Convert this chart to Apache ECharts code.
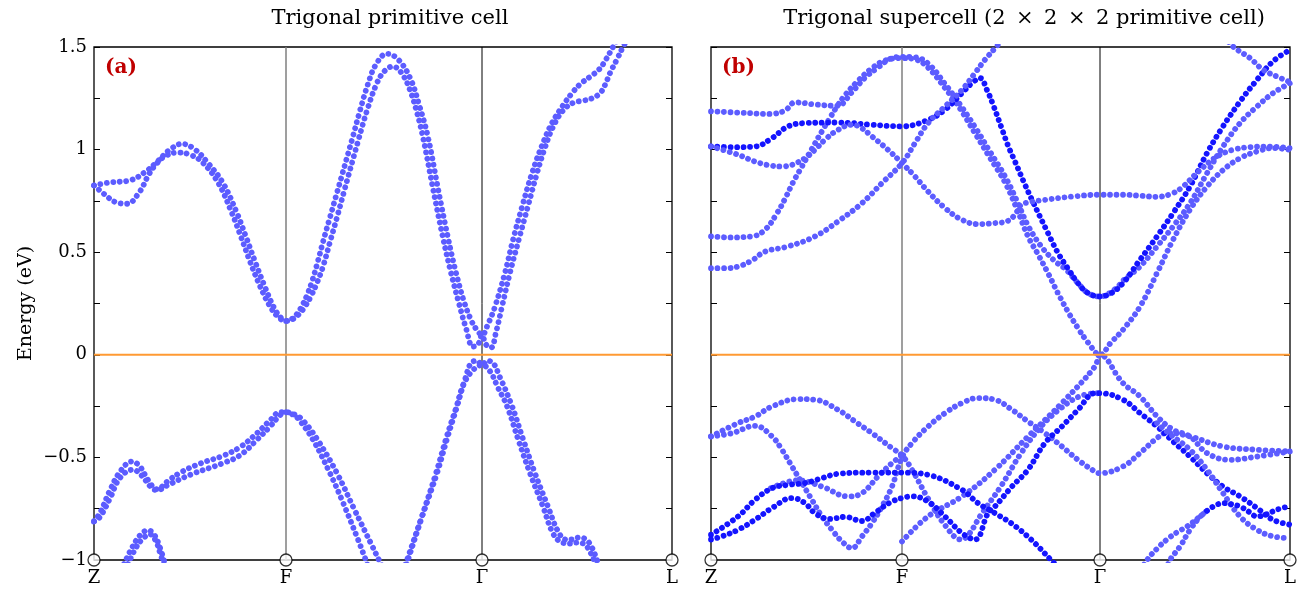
<!DOCTYPE html>
<html><head><meta charset="utf-8">
<script src="https://cdn.jsdelivr.net/npm/echarts@6/dist/echarts.min.js"></script>
<style>html,body{margin:0;padding:0;background:#fff}#c{width:1299px;height:590px}</style>
</head><body><div id="c"></div>
<script>
// ---------- tick data ----------
const kTicksA = [0, 1.92, 3.88, 5.78];
const kTicksB = [0, 1.91, 3.89, 5.79];
const kLabels = ['Z', 'F', 'Γ', 'L'];
const titleA = 'Trigonal primitive cell';
const titleB = 'Trigonal supercell (2\u2002×\u20022\u2002×\u20022 primitive cell)';

// ---------- panel (a): bands [k, E(eV)] ----------
const aCondHi = [[0,0.825],[0.16,0.84],[0.36,0.85],[0.51,0.89],[0.63,0.94],[0.76,1.0],[0.88,1.028],[1.01,1.0],[1.13,0.94],[1.29,0.837],[1.43,0.69],[1.52,0.575],[1.61,0.455],[1.71,0.33],[1.80,0.23],[1.87,0.18],[1.92,0.165],
 [1.96,0.17],[2.0,0.183],[2.04,0.206],[2.08,0.238],[2.13,0.29],[2.18,0.357],[2.23,0.44],[2.29,0.55],[2.36,0.67],[2.43,0.79],[2.58,1.048],[2.66,1.19],[2.74,1.32],[2.82,1.415],[2.93,1.467],[3.04,1.44],[3.16,1.35],[3.25,1.22],[3.34,1.06],[3.44,0.81],[3.54,0.57],[3.62,0.4],[3.70,0.26],[3.77,0.17],[3.83,0.12],[3.88,0.097],
 [3.94,0.15],[4.01,0.235],[4.11,0.4],[4.19,0.56],[4.28,0.72],[4.38,0.885],[4.48,1.02],[4.58,1.13],[4.69,1.215],[4.78,1.275],[4.86,1.318],[4.96,1.355],[5.05,1.39],[5.12,1.44],[5.19,1.5],[5.26,1.56]];
const aCondLo = [[0,0.825],[0.11,0.78],[0.21,0.745],[0.33,0.736],[0.45,0.79],[0.55,0.88],[0.63,0.934],[0.72,0.97],[0.84,0.986],[0.96,0.975],[1.08,0.94],[1.24,0.84],[1.38,0.69],[1.47,0.575],[1.56,0.455],[1.66,0.335],[1.75,0.245],[1.84,0.185],[1.92,0.165],
 [2.0,0.177],[2.05,0.198],[2.11,0.235],[2.17,0.286],[2.23,0.351],[2.29,0.43],[2.36,0.55],[2.43,0.67],[2.50,0.795],[2.64,1.04],[2.73,1.19],[2.83,1.325],[2.91,1.385],[2.99,1.405],[3.08,1.37],[3.16,1.29],[3.23,1.18],[3.29,1.06],[3.39,0.81],[3.49,0.57],[3.57,0.4],[3.65,0.25],[3.72,0.13],[3.79,0.04],[3.84,0.05],[3.88,0.097],
 [3.92,0.05],[3.97,0.035],[4.02,0.11],[4.08,0.235],[4.16,0.4],[4.25,0.565],[4.34,0.725],[4.43,0.885],[4.51,1.01],[4.59,1.11],[4.69,1.19],[4.80,1.23],[4.89,1.238],[4.98,1.25],[5.06,1.275],[5.11,1.315],[5.16,1.373],[5.23,1.44],[5.29,1.5],[5.36,1.56]];
const aValHi = [[0,-0.812],[0.06,-0.77],[0.16,-0.66],[0.26,-0.57],[0.38,-0.52],[0.46,-0.545],[0.54,-0.61],[0.63,-0.655],[0.74,-0.615],[0.86,-0.575],[1.06,-0.53],[1.29,-0.492],[1.46,-0.45],[1.63,-0.382],[1.76,-0.32],[1.86,-0.28],[1.92,-0.28],
 [2.0,-0.29],[2.08,-0.315],[2.23,-0.41],[2.43,-0.577],[2.6,-0.75],[2.78,-0.93],[2.86,-1.01],[2.96,-1.1],[3.02,-1.13],[3.08,-1.1],[3.14,-1.0],[3.28,-0.79],[3.43,-0.577],[3.53,-0.41],[3.63,-0.252],[3.71,-0.12],[3.78,-0.035],[3.83,-0.03],[3.88,-0.05],
 [3.93,-0.03],[3.98,-0.035],[4.06,-0.11],[4.18,-0.25],[4.29,-0.41],[4.41,-0.577],[4.54,-0.74],[4.64,-0.86],[4.72,-0.9],[4.78,-0.9],[4.85,-0.89],[4.92,-0.9],[4.98,-0.94],[5.03,-1.0],[5.09,-1.08]];
const aValLo = [[0,-0.812],[0.06,-0.79],[0.16,-0.7],[0.26,-0.6],[0.39,-0.56],[0.48,-0.59],[0.56,-0.64],[0.63,-0.66],[0.74,-0.635],[0.96,-0.585],[1.29,-0.528],[1.46,-0.49],[1.63,-0.414],[1.76,-0.35],[1.86,-0.295],[1.92,-0.28],
 [2.0,-0.295],[2.06,-0.322],[2.19,-0.414],[2.36,-0.577],[2.49,-0.72],[2.64,-0.9],[2.71,-0.99],[2.78,-1.08],[2.9,-1.18],[3.0,-1.15],[3.07,-1.08],[3.13,-1.0],[3.27,-0.8],[3.42,-0.577],[3.52,-0.41],[3.62,-0.26],[3.70,-0.14],[3.80,-0.07],[3.88,-0.05],
 [3.96,-0.08],[4.04,-0.16],[4.13,-0.25],[4.24,-0.41],[4.36,-0.577],[4.49,-0.74],[4.59,-0.87],[4.68,-0.915],[4.76,-0.92],[4.84,-0.915],[4.91,-0.925],[4.96,-0.96],[5.00,-1.0],[5.06,-1.08]];
const aDeepOut = [[0.30,-1.02],[0.38,-0.94],[0.46,-0.88],[0.54,-0.855],[0.60,-0.875],[0.66,-0.94],[0.71,-1.02]];
const aDeepIn = [[0.34,-1.02],[0.42,-0.94],[0.49,-0.895],[0.56,-0.875],[0.62,-0.91],[0.67,-0.98],[0.70,-1.02]];

// ---------- panel (b): bands [k, E(eV)] ----------
const bC1 = [[0,1.186],[0.29,1.18],[0.59,1.174],[0.74,1.19],[0.84,1.23],[1.04,1.22],[1.26,1.213],[1.41,1.28],[1.54,1.35],[1.67,1.4],[1.81,1.446],[1.91,1.452],
 [2.04,1.45],[2.17,1.42],[2.34,1.32],[2.49,1.22],[2.64,1.11],[2.79,0.99],[2.94,0.87],[3.06,0.75],[3.17,0.63],[3.30,0.53],[3.43,0.46],[3.55,0.415],[3.67,0.349],[3.77,0.301],[3.89,0.284],
 [4.04,0.32],[4.14,0.37],[4.29,0.43],[4.46,0.528],[4.62,0.625],[4.79,0.739],[4.96,0.885],[5.12,1.015],[5.29,1.129],[5.46,1.21],[5.62,1.275],[5.79,1.324]];
const bC2 = [[0,0.577],[0.19,0.572],[0.41,0.577],[0.54,0.609],[0.66,0.69],[0.74,0.76],[0.82,0.84],[0.91,0.918],[1.01,1.005],[1.11,1.09],[1.19,1.155],[1.26,1.21],[1.34,1.265],[1.47,1.335],[1.61,1.397],[1.74,1.434],[1.91,1.446],
 [2.04,1.44],[2.17,1.40],[2.34,1.30],[2.49,1.2],[2.64,1.08],[2.79,0.96],[2.94,0.84],[3.06,0.71],[3.17,0.577],[3.27,0.49],[3.37,0.398],[3.47,0.3],[3.57,0.21],[3.67,0.13],[3.77,0.06],[3.89,0],
 [4.00,0.06],[4.12,0.122],[4.29,0.235],[4.46,0.398],[4.62,0.56],[4.79,0.707],[4.96,0.82],[5.12,0.9],[5.29,0.958],[5.46,0.991],[5.62,1.007],[5.79,0.999]];
const bC3 = [[0,1.015],[0.24,1.012],[0.44,1.015],[0.61,1.056],[0.77,1.113],[0.94,1.129],[1.27,1.132],[1.61,1.121],[1.91,1.113],[2.17,1.145],[2.34,1.194],[2.51,1.275],[2.61,1.324],[2.69,1.348],
 [2.76,1.29],[2.82,1.22],[2.91,1.10],[2.97,1.02],[3.04,0.942],[3.13,0.84],[3.21,0.755],[3.37,0.593],[3.47,0.496],[3.57,0.42],[3.67,0.349],[3.77,0.301],[3.89,0.284],
 [4.00,0.3],[4.12,0.349],[4.29,0.463],[4.46,0.577],[4.62,0.69],[4.79,0.82],[4.96,0.983],[5.12,1.113],[5.29,1.234],[5.46,1.34],[5.62,1.43],[5.79,1.486]];
const bC4 = [[0,1.015],[0.27,0.975],[0.44,0.942],[0.61,0.921],[0.71,0.918],[0.81,0.926],[0.94,0.958],[1.04,0.999],[1.14,1.048],[1.27,1.096],[1.41,1.121],[1.49,1.11],[1.61,1.064],[1.77,0.999],[1.91,0.934],
 [2.04,0.869],[2.17,0.796],[2.34,0.715],[2.51,0.658],[2.67,0.637],[2.84,0.642],[2.97,0.653],[3.05,0.69],[3.10,0.73],[3.20,0.745],[3.34,0.755],[3.61,0.771],[3.89,0.78],
 [4.12,0.78],[4.29,0.775],[4.46,0.77],[4.62,0.788],[4.72,0.82],[4.89,0.9],[5.06,0.966],[5.22,0.999],[5.39,1.012],[5.56,1.015],[5.79,1.007]];
const bC5 = [[0,0.422],[0.14,0.422],[0.27,0.43],[0.41,0.46],[0.54,0.503],[0.77,0.528],[1.04,0.577],[1.27,0.65],[1.51,0.739],[1.71,0.837],[1.91,0.934],[2.04,1.032],[2.17,1.129],[2.34,1.21],[2.51,1.291],[2.64,1.373],[2.74,1.438],[2.84,1.494],[2.94,1.55]];
const bC6 = [[5.14,1.55],[5.22,1.502],[5.39,1.446],[5.52,1.389],[5.66,1.356],[5.79,1.329]];

const bV1 = [[0,-0.398],[0.27,-0.333],[0.44,-0.301],[0.61,-0.252],[0.87,-0.216],[1.04,-0.219],[1.27,-0.268],[1.44,-0.325],[1.61,-0.382],[1.81,-0.455],[1.91,-0.49],
 [2.01,-0.56],[2.17,-0.7],[2.34,-0.83],[2.50,-0.9],[2.57,-0.88],[2.70,-0.78],[2.90,-0.64],[3.10,-0.48],[3.30,-0.35],[3.50,-0.26],[3.70,-0.2],[3.89,-0.187]];
const bV2 = [[0,-0.398],[0.21,-0.382],[0.44,-0.346],[0.61,-0.398],[0.71,-0.463],[0.81,-0.544],[0.91,-0.625],[1.01,-0.707],[1.11,-0.788],[1.21,-0.853],[1.31,-0.91],[1.41,-0.942],[1.51,-0.885],[1.61,-0.82],[1.71,-0.739],[1.81,-0.642],[1.91,-0.5],
 [2.01,-0.43],[2.17,-0.35],[2.34,-0.284],[2.51,-0.235],[2.67,-0.211],[2.84,-0.219],[3.01,-0.268],[3.17,-0.325],[3.34,-0.382],[3.51,-0.447],[3.67,-0.512],[3.84,-0.569],[3.89,-0.577],
 [4.12,-0.544],[4.29,-0.479],[4.46,-0.406],[4.56,-0.38],[4.79,-0.398],[5.12,-0.447],[5.46,-0.463],[5.79,-0.471]];
const bV3 = [[1.91,-0.91],[2.17,-0.788],[2.51,-0.69],[2.84,-0.56],[3.17,-0.398],[3.51,-0.235],[3.84,-0.057],[3.89,0],
 [4.12,-0.138],[4.29,-0.203],[4.46,-0.3],[4.62,-0.365],[4.79,-0.398],[4.96,-0.479],[5.19,-0.512],[5.46,-0.496],[5.79,-0.471]];
const bV7 = [[0.6,-0.65],[0.87,-0.612],[1.11,-0.642],[1.37,-0.69],[1.51,-0.674],[1.67,-0.593],[1.81,-0.528],[1.91,-0.49]];
const bVD1 = [[0,-0.877],[0.27,-0.788],[0.44,-0.707],[0.61,-0.65],[0.77,-0.634],[0.94,-0.625],[1.11,-0.601],[1.27,-0.58],[1.61,-0.574],[1.91,-0.574],
 [2.17,-0.585],[2.51,-0.658],[2.67,-0.723],[2.84,-0.772],[3.0,-0.82],[3.2,-0.9],[3.4,-1.0],[3.6,-1.1]];
const bVD2 = [[0,-0.9],[0.11,-0.885],[0.27,-0.853],[0.44,-0.804],[0.61,-0.747],[0.81,-0.698],[0.94,-0.723],[1.04,-0.772],[1.19,-0.8],[1.34,-0.79],[1.51,-0.81],[1.64,-0.77],[1.79,-0.72],[1.91,-0.698],
 [2.01,-0.69],[2.17,-0.715],[2.34,-0.788],[2.51,-0.869],[2.64,-0.9],[2.77,-0.772],[2.84,-0.739],[3.01,-0.642],[3.17,-0.56],[3.34,-0.43],[3.51,-0.349],[3.67,-0.268],[3.84,-0.187],[3.89,-0.187],
 [4.12,-0.219],[4.29,-0.284],[4.46,-0.349],[4.62,-0.422],[4.79,-0.496],[4.96,-0.577],[5.12,-0.642],[5.29,-0.69],[5.46,-0.747],[5.62,-0.804],[5.79,-0.828]];
const bV4 = [[4.46,-0.333],[4.62,-0.398],[4.79,-0.463],[4.96,-0.56],[5.12,-0.674],[5.29,-0.788],[5.46,-0.853],[5.62,-0.885],[5.79,-0.893]];
const bV5 = [[4.30,-1.05],[4.36,-1.0],[4.46,-0.945],[4.56,-0.9],[4.66,-0.865],[4.76,-0.837],[4.89,-0.788],[4.96,-0.76]];
const bV6 = [[4.55,-1.05],[4.59,-1.0],[4.69,-0.934],[4.79,-0.853],[4.89,-0.79],[4.96,-0.76]];
const bVD3 = [[4.96,-0.76],[5.04,-0.735],[5.12,-0.723],[5.20,-0.728],[5.29,-0.739],[5.38,-0.765],[5.46,-0.788],[5.54,-0.78],[5.62,-0.763],[5.70,-0.748],[5.79,-0.739]];

const bandsA = [[aCondHi,0],[aCondLo,0],[aValHi,0],[aValLo,0],[aDeepOut,0],[aDeepIn,0]];
const bandsB = [[bC1,0],[bC2,0],[bC3,1],[bC4,0],[bC5,0],[bC6,0],[bV1,0],[bV2,0],[bV3,0],[bV7,0],[bVD1,1],[bVD2,1],[bV4,0],[bV5,0],[bV6,0],[bVD3,1]];

// ---------- chart ----------
const FONT = 'DejaVu Serif';
const LIGHT = '#5c5cff', DARK = '#1414ff';
const chart = echarts.init(document.getElementById('c'), null, {renderer: 'canvas'});
const grids = [
  {left: 94, right: 1299 - 672, top: 47, bottom: 30},
  {left: 711, right: 1299 - 1290, top: 47, bottom: 30}
];
const ticksK = [kTicksA, kTicksB];
function fmtE(v) {
  if (Math.abs(v * 2 - Math.round(v * 2)) > 1e-6) return '';
  const r = Math.round(v * 2) / 2;
  return (r < 0 ? '\u2212' : '') + String(Math.abs(r));
}
const xAxis = [], yAxis = [], series = [];
[0, 1].forEach(g => {
  const kt = ticksK[g];
  xAxis.push({
    type: 'value', gridIndex: g, min: 0, max: kt[3],
    axisLine: {show: false}, axisTick: {show: false}, splitLine: {show: false},
    axisLabel: {
      customValues: kt, margin: 9, color: '#000', fontFamily: FONT, fontSize: 18,
      formatter: v => { const i = kt.findIndex(t => Math.abs(t - v) < 1e-6); return i >= 0 ? kLabels[i] : ''; }
    }
  });
  const yBase = {
    type: 'value', gridIndex: g, min: -1, max: 1.5, interval: 0.25,
    axisLine: {show: false}, splitLine: {show: false},
    axisTick: {show: true, inside: true, length: 6, lineStyle: {color: '#000', width: 1}}
  };
  yAxis.push(Object.assign({}, yBase, {
    position: 'left',
    axisLabel: {show: g === 0, formatter: fmtE, color: '#000', fontFamily: FONT, fontSize: 18, margin: 7},
    name: g === 0 ? 'Energy (eV)' : '', nameLocation: 'middle', nameGap: 58,
    nameTextStyle: {fontFamily: FONT, fontSize: 19, color: '#000'}
  }));
  yAxis.push(Object.assign({}, yBase, {position: 'right', axisLabel: {show: false}}));
});
function bandSeries(data, g, dark) {
  return {
    type: 'line', xAxisIndex: g, yAxisIndex: g * 2, data: data, showSymbol: false, symbol: 'none',
    smooth: 0.4, silent: true, animation: false, z: 3,
    lineStyle: {color: dark ? DARK : LIGHT, width: 5.8, type: [0.01, 6.5], cap: 'round'}
  };
}
[bandsA, bandsB].forEach((bands, g) => bands.forEach(b => series.push(bandSeries(b[0], g, b[1]))));
[0, 1].forEach(g => {
  const kt = ticksK[g];
  series.push({type: 'line', xAxisIndex: g, yAxisIndex: g * 2, data: [[kt[1], -1], [kt[1], 1.5]], symbol: 'none', silent: true, animation: false, z: 2,
    lineStyle: {color: '#7f7f7f', width: 1.5}});
  series.push({type: 'line', xAxisIndex: g, yAxisIndex: g * 2, data: [[kt[2], -1], [kt[2], 1.5]], symbol: 'none', silent: true, animation: false, z: 2,
    lineStyle: {color: '#000', width: 1}});
  series.push({type: 'line', xAxisIndex: g, yAxisIndex: g * 2, data: [[0, 0], [kt[3], 0]], symbol: 'none', silent: true, animation: false, z: 4,
    lineStyle: {color: '#ff9a33', width: 2}});
  series.push({type: 'scatter', xAxisIndex: g, yAxisIndex: g * 2, data: kt.map(k => [k, -1]), symbol: 'circle', symbolSize: 12,
    clip: false, silent: true, animation: false, z: 10,
    itemStyle: {color: '#fff', borderColor: '#000', borderWidth: 1.3}});
});
chart.setOption({
  animation: false,
  backgroundColor: '#fff',
  grid: grids.map(gr => Object.assign({show: true, borderColor: '#000', borderWidth: 1.3, backgroundColor: 'transparent'}, gr)),
  xAxis: xAxis, yAxis: yAxis, series: series,
  graphic: [
    {type: 'text', x: 390, y: 19, style: {text: titleA, fontFamily: FONT, fontSize: 21, fill: '#000', textAlign: 'center', textVerticalAlign: 'middle'}},
    {type: 'text', x: 1024, y: 19, style: {text: titleB, fontFamily: FONT, fontSize: 21, fill: '#000', textAlign: 'center', textVerticalAlign: 'middle'}},
    {type: 'text', x: 105, y: 68, style: {text: '(a)', fontFamily: FONT, fontWeight: 'bold', fontSize: 20, fill: '#c00000', textVerticalAlign: 'middle'}},
    {type: 'text', x: 722, y: 68, style: {text: '(b)', fontFamily: FONT, fontWeight: 'bold', fontSize: 20, fill: '#c00000', textVerticalAlign: 'middle'}}
  ]
});
</script></body></html>
